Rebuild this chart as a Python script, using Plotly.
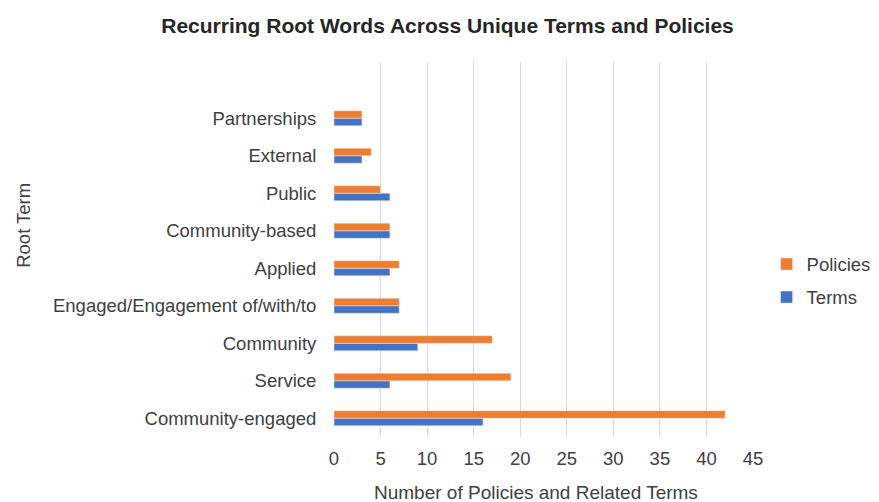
import plotly.graph_objects as go

categories = ["Community-engaged", "Service", "Community", "Engaged/Engagement of/with/to",
              "Applied", "Community-based", "Public", "External", "Partnerships"]
terms = [16, 6, 9, 7, 6, 6, 6, 3, 3]
policies = [42, 19, 17, 7, 7, 6, 5, 4, 3]
x_ticks = [0, 5, 10, 15, 20, 25, 30, 35, 40, 45]

FONT = "Liberation Sans, Arial, sans-serif"
TXT = "#404040"

fig = go.Figure()
fig.add_trace(go.Bar(y=categories, x=terms, orientation="h", name="Terms",
                     legendgroup="t", legendrank=2, marker=dict(color="#4472C4")))
fig.add_trace(go.Bar(y=categories, x=policies, orientation="h", name="Policies",
                     legendgroup="p", legendrank=1, marker=dict(color="#ED7D31")))

# page body has an 8px margin: figure is offset by 8px right/down
fig.update_layout(
    width=879, height=494,
    margin=dict(l=326, r=133, t=54, b=65),
    paper_bgcolor="white", plot_bgcolor="white",
    barmode="group", bargap=0.6, bargroupgap=0,
    font=dict(family=FONT, size=18, color=TXT),
    title=dict(text="<b>Recurring Root Words Across Unique Terms and Policies</b>",
               x=0.5, xanchor="center", y=0.9636, yanchor="middle",
               font=dict(size=21, color="#262626")),
    legend=dict(traceorder="grouped", x=1.03, xanchor="left", y=0.416, yanchor="middle",
                font=dict(size=18.5, color=TXT), itemwidth=30, tracegroupgap=6,
                bgcolor="rgba(0,0,0,0)"),
    showlegend=True,
)
fig.update_xaxes(range=[0, 45], tickvals=x_ticks, showgrid=True, gridcolor="#D9D9D9",
                 gridwidth=1, zeroline=False, showline=False, ticks="outside",
                 ticklen=5, tickcolor="rgba(0,0,0,0)",
                 tickfont=dict(size=18.5, color=TXT))
fig.update_yaxes(type="category", categoryorder="array", categoryarray=categories,
                 range=[-0.5, 9.5], showgrid=False, zeroline=False, showline=False,
                 ticks="outside", ticklen=13, tickcolor="rgba(0,0,0,0)",
                 tickfont=dict(size=18.5, color=TXT))
fig.add_annotation(text="Root Term", xref="paper", yref="paper", x=-0.743, y=0.565,
                   xanchor="center", yanchor="middle", textangle=-90, showarrow=False,
                   font=dict(size=18.5, color=TXT))
fig.add_annotation(text="Number of Policies and Related Terms", xref="paper", yref="paper",
                   x=0.483, y=-0.147, xanchor="center", yanchor="middle", showarrow=False,
                   font=dict(size=19, color=TXT))

fig.write_html("out.html")
